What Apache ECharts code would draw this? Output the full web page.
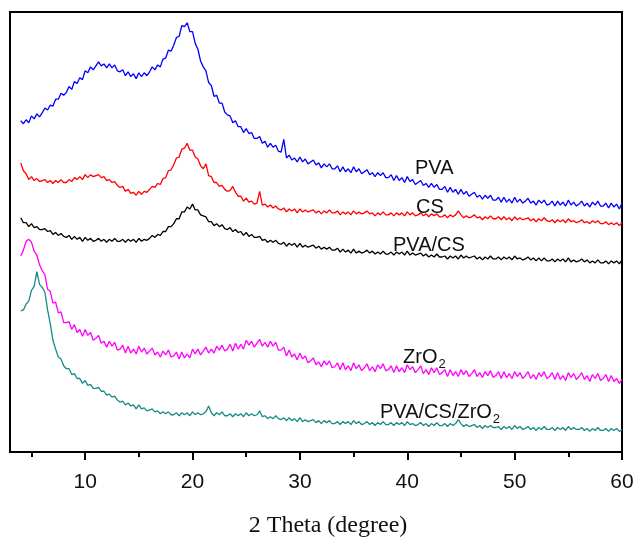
<!DOCTYPE html>
<html>
<head>
<meta charset="utf-8">
<title>XRD patterns</title>
<script src="https://cdn.jsdelivr.net/npm/echarts@6/dist/echarts.min.js"></script>
<style>
  html, body { margin: 0; padding: 0; background: #ffffff; }
  #chart { width: 637px; height: 543px; }
</style>
</head>
<body>
<div id="chart"></div>
<script>
// Diffraction angle grid (2θ, degrees), 0.25° steps
const twoTheta = [
  4,4.25,4.5,4.75,5,5.25,5.5,5.75,6,6.25,6.5,6.75,7,7.25,7.5,7.75,8,8.25,8.5,8.75,
  9,9.25,9.5,9.75,10,10.25,10.5,10.75,11,11.25,11.5,11.75,12,12.25,12.5,12.75,13,13.25,13.5,13.75,
  14,14.25,14.5,14.75,15,15.25,15.5,15.75,16,16.25,16.5,16.75,17,17.25,17.5,17.75,18,18.25,18.5,18.75,
  19,19.25,19.5,19.75,20,20.25,20.5,20.75,21,21.25,21.5,21.75,22,22.25,22.5,22.75,23,23.25,23.5,23.75,
  24,24.25,24.5,24.75,25,25.25,25.5,25.75,26,26.25,26.5,26.75,27,27.25,27.5,27.75,28,28.25,28.5,28.75,
  29,29.25,29.5,29.75,30,30.25,30.5,30.75,31,31.25,31.5,31.75,32,32.25,32.5,32.75,33,33.25,33.5,33.75,
  34,34.25,34.5,34.75,35,35.25,35.5,35.75,36,36.25,36.5,36.75,37,37.25,37.5,37.75,38,38.25,38.5,38.75,
  39,39.25,39.5,39.75,40,40.25,40.5,40.75,41,41.25,41.5,41.75,42,42.25,42.5,42.75,43,43.25,43.5,43.75,
  44,44.25,44.5,44.75,45,45.25,45.5,45.75,46,46.25,46.5,46.75,47,47.25,47.5,47.75,48,48.25,48.5,48.75,
  49,49.25,49.5,49.75,50,50.25,50.5,50.75,51,51.25,51.5,51.75,52,52.25,52.5,52.75,53,53.25,53.5,53.75,
  54,54.25,54.5,54.75,55,55.25,55.5,55.75,56,56.25,56.5,56.75,57,57.25,57.5,57.75,58,58.25,58.5,58.75,
  59,59.25,59.5,59.75,60
];

// Intensities (a.u.), each pattern offset vertically
const pva = [
  338,335,339,336,343,340,345,342,346,351,349,354,353,360,360,366,364,367,373,370,
  378,376,382,380,389,387,393,390,394,398,394,396,392,396,392,395,389,388,390,384,
  388,383,386,381,387,383,387,384,388,393,390,395,393,401,402,410,409,415,423,424,
  435,434,438,429,429,417,411,399,393,389,377,374,363,364,356,356,347,344,343,336,
  338,332,332,326,330,325,326,320,320,322,315,317,311,315,311,313,307,306,319,300,
  303,298,300,296,301,296,299,294,296,298,293,295,290,294,291,294,289,289,292,286,
  291,286,289,285,291,286,289,284,286,288,283,285,281,285,282,285,280,280,283,277,
  282,277,280,275,281,276,278,273,275,277,272,274,270,274,270,273,268,268,271,265,
  270,265,268,263,268,263,266,261,263,265,260,262,258,262,259,262,257,257,260,255,
  260,255,258,254,260,255,258,254,256,259,254,256,252,257,254,257,252,253,256,251,
  256,252,255,251,257,252,255,251,253,256,251,254,250,255,252,256,251,251,254,249,
  254,250,253,248,254
];
const cs = [
  295,287,284,278,281,277,279,276,277,278,275,277,274,277,275,278,275,275,278,276,
  280,278,281,278,283,280,283,281,282,283,280,281,277,278,275,276,272,270,271,266,
  268,264,265,262,266,263,266,265,268,271,270,274,273,279,280,287,288,293,300,301,
  309,310,315,308,308,301,299,292,289,294,282,281,275,275,271,272,268,266,267,271,
  265,261,261,256,259,255,256,253,254,266,252,253,250,252,249,251,248,247,249,245,
  248,246,248,244,248,245,247,245,246,247,244,246,243,246,244,247,244,244,246,242,
  245,243,245,242,246,243,245,243,244,246,243,244,241,244,242,245,242,242,244,241,
  244,242,244,241,245,242,244,241,242,244,241,243,240,243,241,243,240,240,242,239,
  242,240,242,246,242,239,241,239,240,242,239,240,237,240,238,241,238,238,240,237,
  240,237,239,236,240,237,239,237,238,239,236,238,235,238,236,239,236,235,237,234,
  237,235,237,234,238,235,236,234,235,237,234,235,233,236,234,236,233,233,235,232,
  234,232,234,231,234
];
const pvaCs = [
  239,234,234,230,233,229,230,227,227,228,225,226,222,224,221,223,220,219,221,217,
  220,217,219,215,219,216,218,215,216,218,215,217,214,217,215,218,215,215,217,214,
  217,215,217,214,218,215,217,216,218,221,219,222,221,225,225,230,230,233,238,238,
  245,245,250,248,253,247,247,242,241,240,235,235,231,233,230,232,228,227,229,225,
  227,224,225,221,224,220,222,219,219,220,216,217,214,216,214,216,213,212,214,210,
  213,211,213,209,213,209,211,209,210,211,208,210,207,209,207,209,206,206,208,204,
  207,204,206,203,207,203,205,203,204,206,203,205,202,204,202,205,202,202,204,201,
  204,202,204,201,205,201,203,201,202,203,200,202,199,201,199,202,199,199,200,197,
  200,198,200,197,201,198,200,198,199,200,197,199,196,199,197,200,197,197,199,196,
  199,197,199,196,200,197,198,196,197,199,196,198,195,198,195,198,195,195,197,194,
  197,195,197,194,198,194,196,194,195,197,194,196,193,195,193,196,193,193,195,192,
  195,193,195,192,196
];
const zro2 = [
  200,206,215,217,214,205,201,191,185,181,166,164,152,153,142,143,132,132,133,125,
  130,122,125,118,125,119,122,114,116,119,111,113,107,113,108,112,104,105,109,101,
  108,101,105,100,108,102,106,100,103,106,99,102,97,103,99,104,97,98,102,95,
  102,96,100,96,105,100,105,99,103,107,101,105,101,108,104,109,103,105,110,103,
  111,105,110,105,114,109,113,107,111,115,108,112,107,113,108,112,104,104,107,98,
  104,97,100,94,101,95,98,91,93,96,89,92,87,93,89,93,86,87,91,84,
  91,84,88,83,91,85,89,83,86,90,83,87,82,89,85,90,83,84,88,81,
  88,82,86,81,89,84,87,81,84,88,80,84,79,86,81,86,79,81,84,77,
  84,78,82,77,84,79,83,77,80,84,77,81,76,82,78,83,76,78,82,75,
  82,76,80,75,82,77,81,75,78,82,75,79,74,81,77,82,75,77,81,74,
  81,74,78,73,81,76,80,74,77,81,74,78,72,79,75,80,73,75,79,72,
  78,72,75,70,74
];
const pvaCsZro2 = [
  144,145,151,154,165,169,184,171,168,163,145,131,114,105,97,95,88,85,85,79,
  80,75,75,70,73,68,69,65,65,66,62,62,58,59,56,57,53,51,52,48,
  50,47,48,44,48,44,45,42,43,44,41,42,39,41,39,41,38,38,40,37,
  40,38,40,37,41,38,40,38,39,41,47,40,37,40,38,41,37,37,39,36,
  39,37,39,36,40,37,39,37,38,42,36,37,34,36,34,37,34,33,35,32,
  35,32,34,31,35,31,33,31,32,33,30,32,29,32,30,32,29,29,31,28,
  31,29,31,28,32,29,31,28,29,31,28,30,27,30,28,31,28,28,30,27,
  30,28,30,27,31,28,29,27,28,30,27,29,26,29,27,30,27,27,29,26,
  29,27,29,33,29,26,28,26,27,28,25,27,24,27,25,27,25,25,26,23,
  26,24,26,23,27,24,26,23,24,26,23,25,22,25,23,26,23,23,25,22,
  25,23,25,22,26,23,25,23,23,25,22,24,21,24,22,25,22,22,24,21,
  24,22,24,21,23
];

const majorTicks = [10, 20, 30, 40, 50, 60];
const minorTicks = [5, 15, 25, 35, 45, 55];

const pairs = (ys) => twoTheta.map((t, i) => [t, ys[i]]);

const chart = echarts.init(document.getElementById('chart'), null, { renderer: 'canvas' });

const lineSeries = (name, ys, color) => ({
  name,
  type: 'line',
  xAxisIndex: 0,
  yAxisIndex: 0,
  data: pairs(ys),
  showSymbol: false,
  symbol: 'none',
  lineStyle: { color, width: 1.3 },
  silent: true
});

const labelFont = 'Liberation Sans, Arial, sans-serif';
const subRich = (main) => ({
  text: '{m|' + main + '}{s|2}',
  rich: {
    m: { fontFamily: labelFont, fontSize: 20, fill: '#111111', verticalAlign: 'bottom' },
    s: { fontFamily: labelFont, fontSize: 13, fill: '#111111', verticalAlign: 'bottom', padding: [0, 0, -4, 1] }
  }
});

chart.setOption({
  animation: false,
  backgroundColor: '#ffffff',
  grid: {
    left: 10, right: 15, top: 12, bottom: 82,
    show: true, borderColor: '#000000', borderWidth: 2, backgroundColor: 'transparent'
  },
  xAxis: [
    {
      type: 'value', min: 3, max: 60, position: 'bottom',
      name: '2 Theta (degree)',
      nameLocation: 'middle',
      nameGap: 74,
      nameTextStyle: {
        fontFamily: 'Liberation Serif, Times New Roman, serif',
        fontSize: 24, color: '#111111', verticalAlign: 'middle',
        padding: [0, 0, 0, 24]
      },
      axisLine: { show: true, lineStyle: { color: '#000000', width: 2 } },
      axisTick: { show: true, inside: false, length: 8, customValues: majorTicks,
                  lineStyle: { color: '#000000', width: 2 } },
      axisLabel: { show: true, customValues: majorTicks, margin: 20,
                   fontFamily: labelFont, fontSize: 21, color: '#111111' },
      splitLine: { show: false }
    },
    {
      type: 'value', min: 3, max: 60, position: 'bottom', gridIndex: 0,
      axisLine: { show: false },
      axisTick: { show: true, inside: false, length: 5, customValues: minorTicks,
                  lineStyle: { color: '#000000', width: 2 } },
      axisLabel: { show: false },
      splitLine: { show: false }
    }
  ],
  yAxis: {
    type: 'value', min: 0, max: 449,
    axisLine: { show: true, lineStyle: { color: '#000000', width: 2 } },
    axisTick: { show: false },
    axisLabel: { show: false },
    splitLine: { show: false }
  },
  series: [
    lineSeries('PVA', pva, '#0000ff'),
    lineSeries('CS', cs, '#ff0000'),
    lineSeries('PVA/CS', pvaCs, '#000000'),
    lineSeries('ZrO2', zro2, '#ff00ff'),
    lineSeries('PVA/CS/ZrO2', pvaCsZro2, '#168a85')
  ],
  graphic: [
    { type: 'text', left: 415, top: 158,
      style: { text: 'PVA', font: '20px ' + labelFont, fill: '#111111' } },
    { type: 'text', left: 416, top: 197,
      style: { text: 'CS', font: '20px ' + labelFont, fill: '#111111' } },
    { type: 'text', left: 393, top: 235,
      style: { text: 'PVA/CS', font: '20px ' + labelFont, fill: '#111111' } },
    { type: 'text', left: 403, top: 347, style: subRich('ZrO') },
    { type: 'text', left: 380, top: 402, style: subRich('PVA/CS/ZrO') }
  ]
});
</script>
</body>
</html>
